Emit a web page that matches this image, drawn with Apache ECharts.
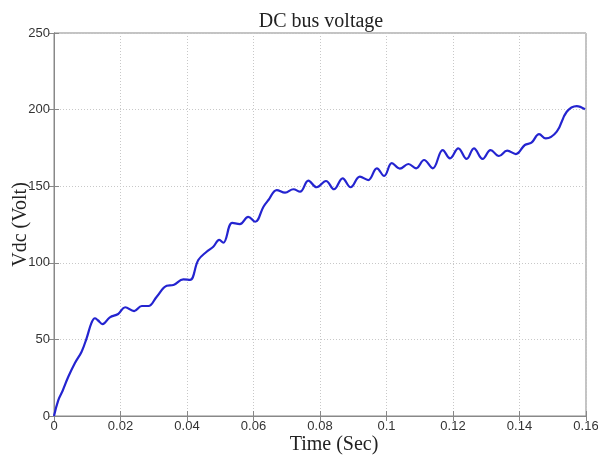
<!DOCTYPE html>
<html>
<head>
<meta charset="utf-8">
<script src="https://cdn.jsdelivr.net/npm/echarts@6/dist/echarts.min.js"></script>
<style>
  html, body { margin: 0; padding: 0; background: #fff; }
  #main { width: 598px; height: 456px; }
</style>
</head>
<body>
<div id="main"></div>
<script>
// time (s) and DC bus voltage (V)
var times = [0, 0.0013, 0.0026, 0.0043, 0.0063, 0.0083, 0.0098, 0.0113, 0.0123, 0.0132, 0.0146, 0.0168, 0.0193,
  0.0214, 0.0241, 0.0264, 0.0284, 0.0309, 0.0339, 0.0359, 0.0389, 0.0409, 0.0434, 0.0459, 0.0479,
  0.0497, 0.0509, 0.0536, 0.0559, 0.0584, 0.0605, 0.063, 0.0645, 0.067, 0.0695, 0.072, 0.074,
  0.0765, 0.079, 0.0818, 0.0842, 0.0868, 0.0892, 0.092, 0.0945, 0.0971, 0.0993, 0.1016, 0.1040,
  0.1066, 0.1089, 0.1113, 0.1139, 0.1169, 0.1191, 0.1216, 0.1241, 0.1263, 0.1289, 0.1313, 0.1338,
  0.1363, 0.1389, 0.1416, 0.1436, 0.1459, 0.1479, 0.1512, 0.1542, 0.1572, 0.1597];
var volts = [0, 10.4, 16.5, 25.6, 34.6, 42, 50.7, 60.9, 63.8, 62.5, 60, 64.4, 66.6,
  71, 68.5, 71.8, 71.8, 77.9, 85, 85.5, 89.2, 88.8, 101.8, 107.2, 110.5,
  114.9, 113.1, 126, 125.3, 130, 126.8, 136.6, 141, 147.5, 145.8, 148, 146.4,
  153.6, 149.3, 153.4, 148, 155.1, 149.3, 156.2, 154, 161.7, 156.7, 165, 161.5,
  164.5, 161.7, 167.1, 161.7, 173.6, 168.2, 174.7, 167.8, 174.7, 167.8, 173.6, 169.7,
  173.2, 171, 176.9, 178.4, 184, 181.2, 185.6, 198.6, 202.3, 200.2];
var xTicks = [0, 0.02, 0.04, 0.06, 0.08, 0.1, 0.12, 0.14, 0.16];
var yTicks = [0, 50, 100, 150, 200, 250];

var points = times.map(function (t, i) { return [t, volts[i]]; });

var myChart = echarts.init(document.getElementById('main'));

var serif = '"Liberation Serif", "DejaVu Serif", serif';
var sans = '"Liberation Sans", Arial, sans-serif';
var gridLine = { show: true, lineStyle: { color: '#c8c8c8', type: [1, 2], width: 1 } };

var option = {
  animation: false,
  title: {
    text: 'DC bus voltage',
    left: 316, top: 7, textAlign: 'center',
    textStyle: { fontFamily: serif, fontSize: 20, fontWeight: 'normal', color: '#222' }
  },
  grid: {
    left: 54, right: 12, top: 33, bottom: 40,
    outerBoundsMode: 'none', containLabel: false,
    show: true, borderColor: '#888', borderWidth: 1
  },
  xAxis: [{
    type: 'value', min: 0, max: 0.16, interval: 0.02,
    name: 'Time (Sec)', nameLocation: 'middle', nameGap: 19, nameMoveOverlap: false,
    nameTextStyle: { fontFamily: serif, fontSize: 20, color: '#222', padding: [0, 0, 0, 28] },
    axisLine: { show: true, lineStyle: { color: '#888' } },
    axisTick: { show: true, inside: true, length: 5, lineStyle: { color: '#888' } },
    axisLabel: {
      fontFamily: sans, fontSize: 13, color: '#333', margin: 4,
      formatter: function (v) { return String(parseFloat(v.toFixed(2))); }
    },
    splitLine: gridLine
  }, {
    type: 'value', min: 0, max: 0.16, interval: 0.02, position: 'top',
    axisLine: { show: true, lineStyle: { color: '#888' } },
    axisTick: { show: true, inside: true, length: 5, lineStyle: { color: '#888' } },
    axisLabel: { show: false }, splitLine: { show: false }
  }],
  yAxis: [{
    type: 'value', min: 0, max: 250, interval: 50,
    name: 'Vdc (Volt)', nameLocation: 'middle', nameGap: 23, nameMoveOverlap: false,
    nameTextStyle: { fontFamily: serif, fontSize: 20, color: '#222' },
    axisLine: { show: true, lineStyle: { color: '#888' } },
    axisTick: { show: true, inside: true, length: 5, lineStyle: { color: '#888' } },
    axisLabel: { fontFamily: sans, fontSize: 13, color: '#333', margin: 4 },
    splitLine: gridLine
  }, {
    type: 'value', min: 0, max: 250, interval: 50, position: 'right',
    axisLine: { show: true, lineStyle: { color: '#888' } },
    axisTick: { show: true, inside: true, length: 5, lineStyle: { color: '#888' } },
    axisLabel: { show: false }, splitLine: { show: false }
  }],
  series: [{
    type: 'line',
    data: points,
    smooth: 0.4,
    showSymbol: false,
    lineStyle: { color: '#2424d0', width: 2.2 }
  }]
};

myChart.setOption(option);
</script>
</body>
</html>
